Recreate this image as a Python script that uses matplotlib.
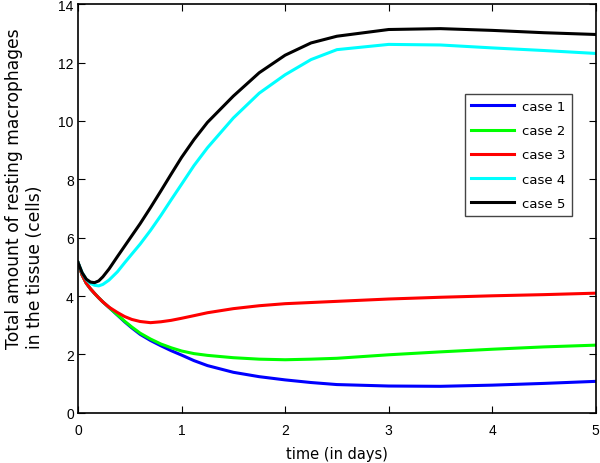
import numpy as np
import matplotlib
matplotlib.use("Agg")
import matplotlib.pyplot as plt

# values
t = [0, 0.04, 0.08, 0.12, 0.16, 0.2, 0.24, 0.3, 0.38, 0.45, 0.52, 0.6, 0.7,
     0.8, 0.9, 1.0, 1.12, 1.25, 1.5, 1.75, 2.0, 2.25, 2.5, 3.0, 3.5, 4.0,
     4.5, 5.0]

case1 = [5.15, 4.72, 4.44, 4.25, 4.09, 3.94, 3.80, 3.61, 3.35, 3.12, 2.91,
         2.69, 2.48, 2.30, 2.13, 1.98, 1.79, 1.62, 1.39, 1.24, 1.13, 1.04,
         0.97, 0.92, 0.91, 0.95, 1.01, 1.08]
case2 = [5.15, 4.72, 4.44, 4.25, 4.09, 3.94, 3.80, 3.61, 3.36, 3.14, 2.94,
         2.73, 2.53, 2.36, 2.23, 2.12, 2.03, 1.97, 1.89, 1.84, 1.82, 1.84,
         1.87, 1.99, 2.09, 2.18, 2.26, 2.32]
case3 = [5.15, 4.72, 4.44, 4.25, 4.09, 3.94, 3.80, 3.62, 3.44, 3.30, 3.20,
         3.13, 3.09, 3.12, 3.17, 3.24, 3.33, 3.43, 3.57, 3.67, 3.74, 3.78,
         3.82, 3.90, 3.96, 4.01, 4.05, 4.10]
case4 = [5.15, 4.80, 4.57, 4.44, 4.37, 4.35, 4.40, 4.55, 4.83, 5.14, 5.44,
         5.78, 6.25, 6.76, 7.30, 7.83, 8.47, 9.08, 10.10, 10.95, 11.58,
         12.10, 12.44, 12.62, 12.60, 12.50, 12.41, 12.31]
case5 = [5.15, 4.80, 4.58, 4.48, 4.46, 4.52, 4.66, 4.93, 5.35, 5.71, 6.07,
         6.48, 7.03, 7.60, 8.18, 8.75, 9.36, 9.95, 10.85, 11.65, 12.25,
         12.67, 12.90, 13.13, 13.16, 13.10, 13.02, 12.96]

labels = ["case 1", "case 2", "case 3", "case 4", "case 5"]
colors = ["#0000ff", "#00ff00", "#ff0000", "#00ffff", "#000000"]

fig = plt.figure(figsize=(6, 4.64), dpi=100)
ax = fig.add_axes([0.13, 0.108, 0.863, 0.881])

for y, lab, c in zip([case1, case2, case3, case4, case5], labels, colors):
    ax.plot(t, y, color=c, lw=2.2, label=lab)

ax.set_xlim(0, 5)
ax.set_ylim(0, 14)
ax.set_xticks(range(0, 6))
ax.set_yticks(range(0, 15, 2))
ax.tick_params(direction="in", top=True, right=True, length=5, labelsize=10)
ax.tick_params(axis="x", pad=7)
ax.tick_params(axis="y", pad=3)
for lab in ax.get_xticklabels() + ax.get_yticklabels():
    lab.set_family("Liberation Sans")
for s in ax.spines.values():
    s.set_linewidth(1.2)

ax.set_xlabel("time (in days)", fontsize=10.5, labelpad=6.5)
ax.set_ylabel("Total amount of resting macrophages\nin the tissue (cells)",
              fontsize=12.3, multialignment="left")
ax.yaxis.set_label_coords(-0.066, 0.55)

leg = ax.legend(loc="upper left", bbox_to_anchor=(0.747, 0.78),
                fontsize=9.5, handlelength=3.3, handletextpad=0.6,
                labelspacing=0.85, borderpad=0.45,
                fancybox=False, borderaxespad=0, framealpha=1)
leg.get_frame().set_edgecolor("#444444")
leg.get_frame().set_linewidth(1.0)

fig.savefig("out.png", dpi=100)
